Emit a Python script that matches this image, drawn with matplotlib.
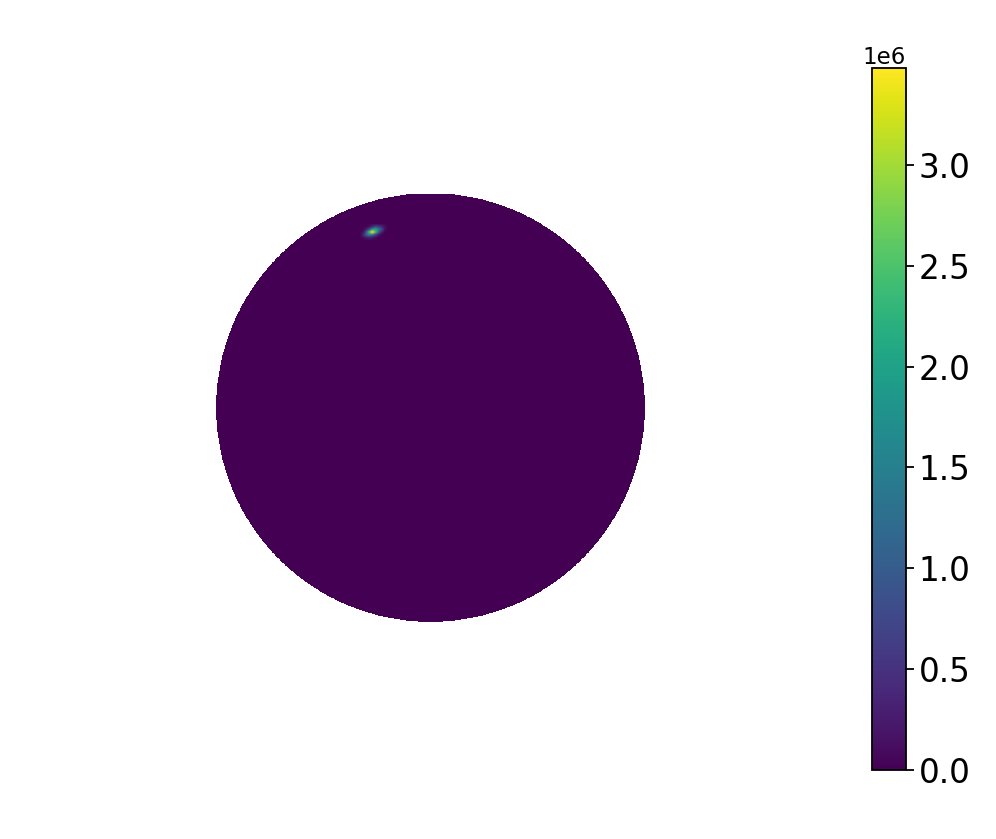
import numpy as np
import matplotlib
matplotlib.use("Agg")
import matplotlib.pyplot as plt
from matplotlib.colors import Normalize

# ── data ─────────────────────────────────────────────────────────────────────
disk_radius = 1.0
background_level = 0.0
vmax = 3.48e6

# hot spot patch (units of 1e6), rows top -> bottom
spot_x_range = (-0.336, -0.187)
spot_y_range = (0.776, 0.869)
spot_values = np.array([
    [0.0, 0.0, 0.0, 0.0,  0.0, 0.0, 0.0, 0.0, 0.0, 0.0],
    [0.0, 0.0, 0.0, 0.1,  0.3, 0.6, 0.5, 0.3, 0.1, 0.0],
    [0.0, 0.0, 0.2, 0.7,  1.8, 2.0, 1.4, 0.7, 0.1, 0.0],
    [0.0, 0.1, 0.8, 2.4,  3.45, 2.4, 1.0, 0.3, 0.0, 0.0],
    [0.0, 0.3, 1.0, 1.6,  1.2, 0.6, 0.2, 0.0, 0.0, 0.0],
    [0.0, 0.1, 0.2, 0.3,  0.2, 0.1, 0.0, 0.0, 0.0, 0.0],
    [0.0, 0.0, 0.0, 0.0,  0.0, 0.0, 0.0, 0.0, 0.0, 0.0],
]) * 1e6

cbar_ticks = [0.0, 0.5e6, 1.0e6, 1.5e6, 2.0e6, 2.5e6, 3.0e6]

# ── figure ───────────────────────────────────────────────────────────────────
fig = plt.figure(figsize=(9.96, 8.39), dpi=100)
ax = fig.add_axes([216 / 996, 1 - 622 / 839, 428 / 996, 428 / 839])
cax = fig.add_axes([872 / 996, 1 - 770 / 839, 34 / 996, 702 / 839])

norm = Normalize(vmin=0.0, vmax=vmax)

# disk: constant background, masked outside the circle
n = 1200
g = np.linspace(-disk_radius, disk_radius, n)
xx, yy = np.meshgrid(g, g)
field = np.full((n, n), background_level)
field = np.ma.masked_where(xx**2 + yy**2 > disk_radius**2, field)
im = ax.imshow(field, cmap="viridis", norm=norm, origin="lower",
               extent=[-disk_radius, disk_radius, -disk_radius, disk_radius],
               interpolation="nearest")

# hot spot
ax.imshow(spot_values, cmap="viridis", norm=norm, origin="upper",
          extent=[spot_x_range[0], spot_x_range[1], spot_y_range[0], spot_y_range[1]],
          interpolation="bilinear")

ax.set_xlim(-disk_radius, disk_radius)
ax.set_ylim(-disk_radius, disk_radius)
ax.set_aspect("equal")
ax.axis("off")

cb = fig.colorbar(im, cax=cax, ticks=cbar_ticks)
cb.outline.set_linewidth(1.3)
cax.tick_params(labelsize=23.5, length=5.5, width=1.3)
cax.yaxis.get_offset_text().set_fontsize(16.5)

fig.savefig("out.png", dpi=100)
